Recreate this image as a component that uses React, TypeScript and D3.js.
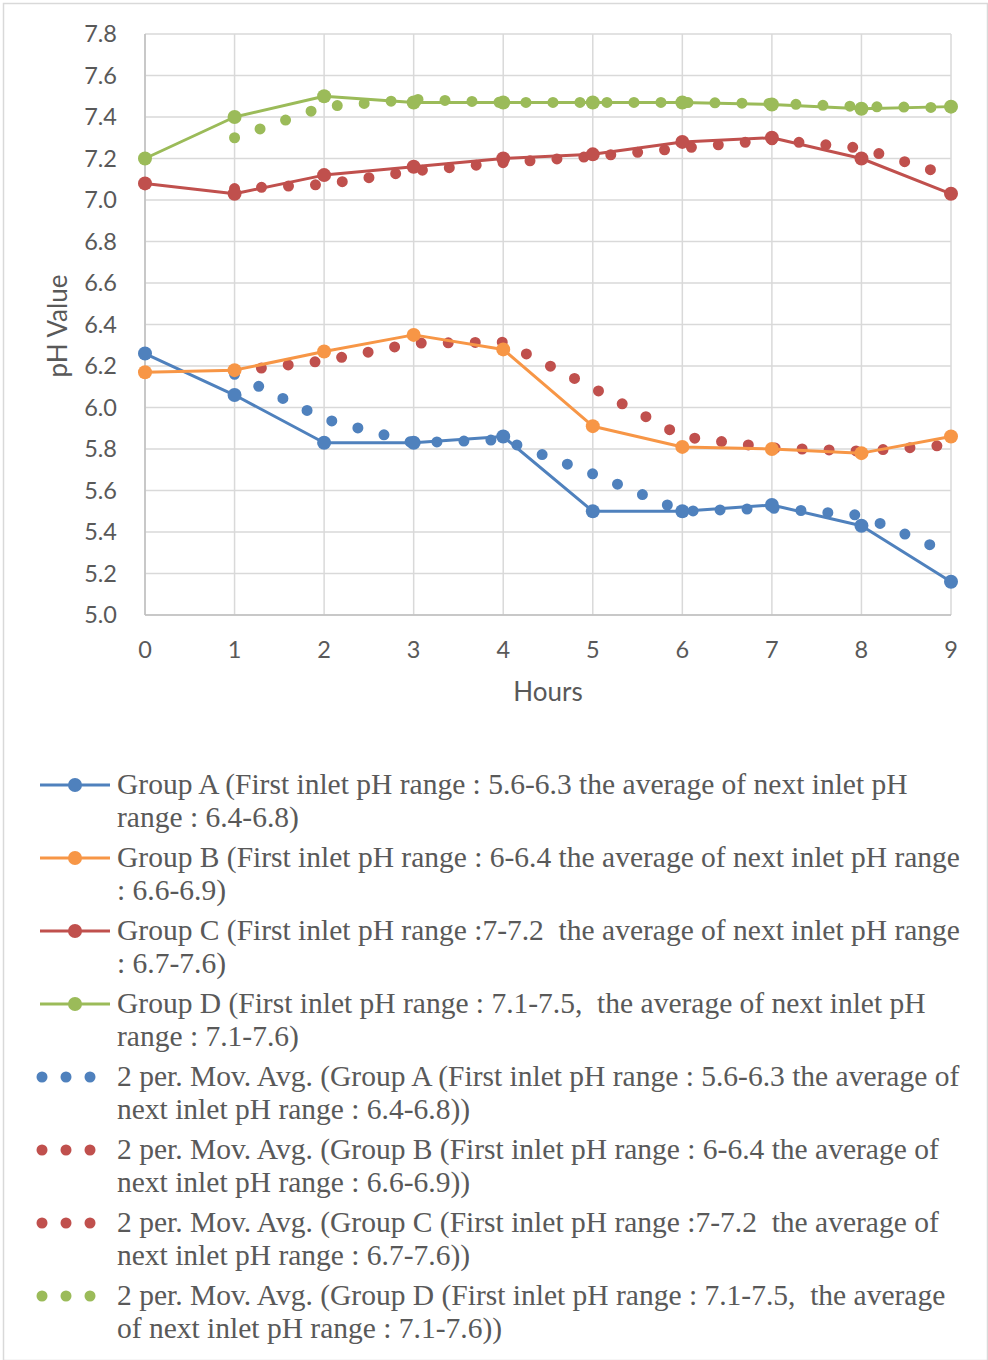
import React from 'react';
import * as d3 from 'd3';

const hours = [0, 1, 2, 3, 4, 5, 6, 7, 8, 9];
const groupA = [6.26, 6.06, 5.83, 5.83, 5.86, 5.5, 5.5, 5.53, 5.43, 5.16];
const groupB = [6.17, 6.18, 6.27, 6.35, 6.28, 5.91, 5.81, 5.8, 5.78, 5.86];
const groupC = [7.08, 7.03, 7.12, 7.16, 7.2, 7.22, 7.28, 7.3, 7.2, 7.03];
const groupD = [7.2, 7.4, 7.5, 7.47, 7.47, 7.47, 7.47, 7.46, 7.44, 7.45];
const yTicks = [5.0, 5.2, 5.4, 5.6, 5.8, 6.0, 6.2, 6.4, 6.6, 6.8, 7.0, 7.2, 7.4, 7.6, 7.8];

const seriesNames = ['Group A', 'Group B', 'Group C', 'Group D'];
const seriesColors = ['#4F81BD', '#F79646', '#C0504D', '#9BBB59'];
const trendColors = ['#4F81BD', '#C0504D', '#C0504D', '#9BBB59'];

const legendLines: string[][] = [
  ['Group A (First inlet pH range : 5.6-6.3 the average of next inlet pH', 'range : 6.4-6.8)'],
  ['Group B (First inlet pH range : 6-6.4 the average of next inlet pH range', ': 6.6-6.9)'],
  ['Group C (First inlet pH range :7-7.2  the average of next inlet pH range', ': 6.7-7.6)'],
  ['Group D (First inlet pH range : 7.1-7.5,  the average of next inlet pH', 'range : 7.1-7.6)'],
  ['2 per. Mov. Avg. (Group A (First inlet pH range : 5.6-6.3 the average of', 'next inlet pH range : 6.4-6.8))'],
  ['2 per. Mov. Avg. (Group B (First inlet pH range : 6-6.4 the average of', 'next inlet pH range : 6.6-6.9))'],
  ['2 per. Mov. Avg. (Group C (First inlet pH range :7-7.2  the average of', 'next inlet pH range : 6.7-7.6))'],
  ['2 per. Mov. Avg. (Group D (First inlet pH range : 7.1-7.5,  the average', 'of next inlet pH range : 7.1-7.6))'],
];

const W = 988;
const H = 1360;
const axisFont = 'Lato, "Open Sans", sans-serif';
const serif = '"Liberation Serif", "Times New Roman", serif';

export default function App() {
  const x = d3.scaleLinear().domain([0, 9]).range([145, 951]);
  const y = d3.scaleLinear().domain([5.0, 7.8]).range([615, 34]);
  const allSeries = [groupA, groupB, groupC, groupD];

  const line = d3
    .line<[number, number]>()
    .x((d) => x(d[0]))
    .y((d) => y(d[1]));

  // 2 period moving average, as Excel's trendline does
  const movAvg = (vals: number[]) =>
    vals.slice(1).map((v, i) => [hours[i + 1], (v + vals[i]) / 2] as [number, number]);

  return (
    <div style={{ position: 'absolute', left: 0, top: 0 }}>
      <svg width={W} height={H} style={{ display: 'block' }}>
        <rect x={0} y={0} width={W} height={H} fill="#fff" />
        <rect x={3.5} y={3.5} width={W - 4} height={H - 3} fill="none" stroke="#d9d9d9" strokeWidth={1.5} />

        {/* grid */}
        {yTicks.map((t) => (
          <line key={'gy' + t} x1={x(0)} x2={x(9)} y1={y(t)} y2={y(t)} stroke="#d9d9d9" strokeWidth={1.5} />
        ))}
        {hours.map((h) => (
          <line key={'gx' + h} x1={x(h)} x2={x(h)} y1={y(5.0)} y2={y(7.8)} stroke="#d9d9d9" strokeWidth={1.5} />
        ))}
        <line x1={x(0)} x2={x(0)} y1={y(5.0)} y2={y(7.8)} stroke="#bfbfbf" strokeWidth={1.5} />
        <line x1={x(0)} x2={x(9)} y1={y(5.0)} y2={y(5.0)} stroke="#bfbfbf" strokeWidth={1.5} />

        {/* tick labels */}
        {yTicks.map((t) => (
          <text key={'ty' + t} x={117} y={y(t)} dy="0.35em" textAnchor="end" fontFamily={axisFont} fontSize={23.5} fill="#595959">
            {t.toFixed(1)}
          </text>
        ))}
        {hours.map((h) => (
          <text key={'tx' + h} x={x(h)} y={650} dy="0.35em" textAnchor="middle" fontFamily={axisFont} fontSize={23.5} fill="#595959">
            {h}
          </text>
        ))}
        <text x={548} y={692} dy="0.35em" textAnchor="middle" fontFamily={axisFont} fontSize={26} fill="#595959">
          Hours
        </text>
        <text transform={`translate(58,${326}) rotate(-90)`} dy="0.35em" textAnchor="middle" fontFamily={axisFont} fontSize={26} fill="#595959">
          pH Value
        </text>

        {/* moving average trendlines */}
        {allSeries.map((vals, i) => (
          <path
            key={'ma' + i}
            d={line(movAvg(vals)) || ''}
            fill="none"
            stroke={trendColors[i]}
            strokeWidth={11}
            strokeLinecap="round"
            strokeDasharray="0 27"
          />
        ))}

        {/* series */}
        {allSeries.map((vals, i) => (
          <g key={'s' + i}>
            <path
              d={line(vals.map((v, j) => [hours[j], v] as [number, number])) || ''}
              fill="none"
              stroke={seriesColors[i]}
              strokeWidth={3}
              strokeLinejoin="round"
            />
            {vals.map((v, j) => (
              <circle key={j} cx={x(hours[j])} cy={y(v)} r={7} fill={seriesColors[i]} />
            ))}
          </g>
        ))}

        {/* legend */}
        {legendLines.map((lines, i) => {
          const top = 785 + i * 73;
          const isTrend = i >= 4;
          const color = isTrend ? trendColors[i - 4] : seriesColors[i];
          return (
            <g key={'lg' + i}>
              {isTrend ? (
                [42, 66, 90].map((cx) => <circle key={cx} cx={cx} cy={top} r={5.5} fill={color} />)
              ) : (
                <>
                  <line x1={40} x2={110} y1={top} y2={top} stroke={color} strokeWidth={3} />
                  <circle cx={75} cy={top} r={7} fill={color} />
                </>
              )}
              {lines.map((ln, k) => (
                <text
                  key={k}
                  x={117}
                  y={top + k * 33}
                  dy="0.32em"
                  fontFamily={serif}
                  fontSize={29.5}
                  fill="#595959"
                  style={{ whiteSpace: 'pre' }}
                >
                  {ln}
                </text>
              ))}
              <title>{seriesNames[i % 4]}</title>
            </g>
          );
        })}
      </svg>
    </div>
  );
}
